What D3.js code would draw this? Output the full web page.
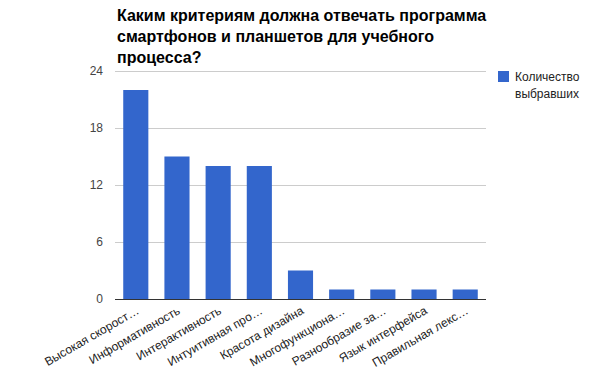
<!DOCTYPE html>
<html>
<head>
<meta charset="utf-8">
<script src="https://cdn.jsdelivr.net/npm/d3@7"></script>
<style>
body { margin: 0; background: #fff; }
text { font-family: Arial, "Liberation Sans", sans-serif; }
</style>
</head>
<body>
<div id="chart"></div>
<script>
var categories = ["Высокая скорост…", "Информативность", "Интерактивность", "Интуитивная про…",
                  "Красота дизайна", "Многофункциона…", "Разнообразие за…", "Язык интерфейса", "Правильная лекс…"];
var values = [22, 15, 14, 14, 3, 1, 1, 1, 1];
var yTicks = [0, 6, 12, 18, 24];
var titleLines = ["Каким критериям должна отвечать программа", "смартфонов и планшетов для учебного", "процесса?"];
var legendLines = ["Количество", "выбравших"];

var width = 600, height = 371;
var plotLeft = 115, plotRight = 486, plotTop = 71, plotBottom = 299;

var svg = d3.select("#chart").append("svg")
    .attr("width", width)
    .attr("height", height);

var x = d3.scaleBand()
    .domain(categories)
    .range([plotLeft, plotRight])
    .paddingInner(0.39)
    .paddingOuter(0.2);

var y = d3.scaleLinear()
    .domain([0, 24])
    .range([plotBottom, plotTop]);

// gridlines
svg.append("g").selectAll("line")
    .data(yTicks)
    .enter().append("line")
    .attr("x1", plotLeft)
    .attr("x2", plotRight)
    .attr("y1", function(d) { return y(d) + 0.5; })
    .attr("y2", function(d) { return y(d) + 0.5; })
    .attr("stroke", "#cccccc")
    .attr("stroke-width", 1);

// y tick labels
svg.append("g").selectAll("text")
    .data(yTicks)
    .enter().append("text")
    .attr("x", plotLeft - 12)
    .attr("y", function(d) { return y(d) + 4; })
    .attr("text-anchor", "end")
    .attr("font-size", 12)
    .attr("fill", "#444")
    .text(function(d) { return d; });

// bars
svg.append("g").selectAll("rect")
    .data(values)
    .enter().append("rect")
    .attr("x", function(d, i) { return x(categories[i]); })
    .attr("y", function(d) { return y(d); })
    .attr("width", x.bandwidth())
    .attr("height", function(d) { return plotBottom - y(d); })
    .attr("fill", "#3366cc");

// baseline
svg.append("line")
    .attr("x1", plotLeft)
    .attr("x2", plotRight)
    .attr("y1", plotBottom + 0.5)
    .attr("y2", plotBottom + 0.5)
    .attr("stroke", "#333")
    .attr("stroke-width", 1);

// x labels, rotated
svg.append("g").selectAll("text")
    .data(categories)
    .enter().append("text")
    .attr("transform", function(d) {
        var cx = x(d) + x.bandwidth() / 2 + 4;
        return "translate(" + cx + "," + (plotBottom + 14) + ") rotate(-30)";
    })
    .attr("text-anchor", "end")
    .attr("font-size", 12)
    .attr("fill", "#222")
    .text(function(d) { return d; });

// title
svg.append("g").selectAll("text")
    .data(titleLines)
    .enter().append("text")
    .attr("x", 117)
    .attr("y", function(d, i) { return 21 + i * 21; })
    .attr("font-size", 16)
    .attr("font-weight", "bold")
    .attr("fill", "#000")
    .text(function(d) { return d; });

// legend
svg.append("rect")
    .attr("x", 498)
    .attr("y", 71)
    .attr("width", 11)
    .attr("height", 11)
    .attr("fill", "#3366cc");

svg.append("g").selectAll("text")
    .data(legendLines)
    .enter().append("text")
    .attr("x", 515)
    .attr("y", function(d, i) { return 81 + i * 17; })
    .attr("font-size", 12)
    .attr("fill", "#222")
    .text(function(d) { return d; });
</script>
</body>
</html>
